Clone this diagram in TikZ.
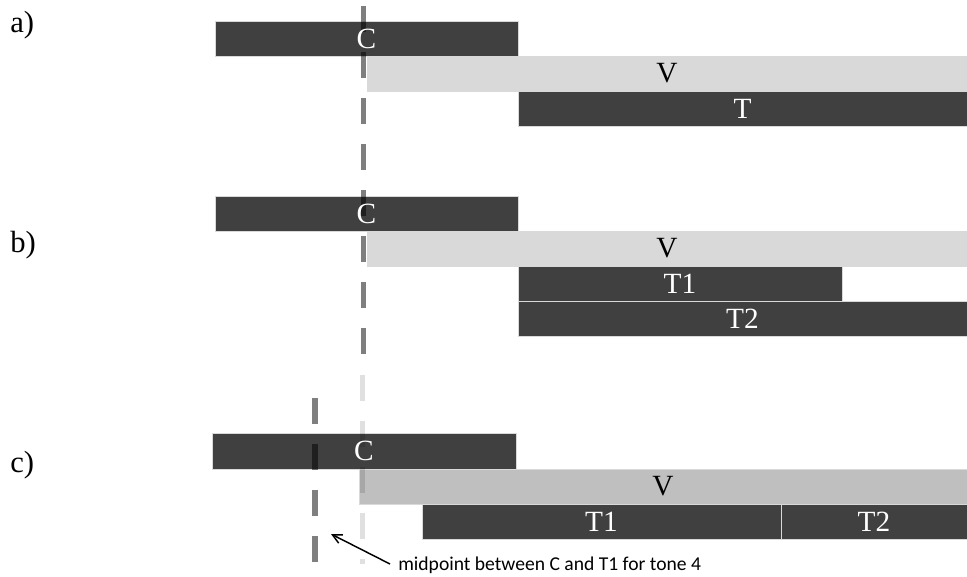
\documentclass[tikz,border=0pt]{standalone}
\usepackage{fontspec}
\setmainfont{Liberation Serif}
\newfontfamily\notefont{Carlito}
\usetikzlibrary{arrows.meta}
\tikzset{
  x=0.75pt, y=-0.75pt,
  barbase/.style={inner sep=0pt, outer sep=0pt, draw=black!15, line width=0.5pt, minimum height=35*0.75pt},
  dbar/.style={barbase, fill=black!75},
  lbar/.style={barbase, fill=black!15},
  mbar/.style={barbase, fill=black!25},
  wlab/.style={text=white, font=\fontsize{22}{26}\selectfont, inner sep=0pt},
  klab/.style={text=black, font=\fontsize{22}{26}\selectfont, inner sep=0pt},
  plab/.style={text=black, font=\fontsize{23}{27}\selectfont, inner sep=0pt, anchor=base west},
  darkdash/.style={draw=black, draw opacity=0.5, line width=4.2pt, dash pattern=on 26*0.75pt off 20*0.75pt},
  lightdash/.style={draw=black, draw opacity=0.12, line width=4.2pt, dash pattern=on 26*0.75pt off 20*0.75pt},
  notetext/.style={font=\notefont\fontsize{14.7}{17}\selectfont, inner sep=0pt, anchor=west},
  pointer/.style={draw=black, line width=1.1pt, -{Straight Barb[length=7pt,width=7pt]}}
}
\begin{document}
\begin{tikzpicture}
\useasboundingbox (0,0) rectangle (967,576);
% panel labels
\node[plab] (la) at (10,32) {a)};
\node[plab] (lb) at (10,252) {b)};
\node[plab] (lc) at (10,472) {c)};
% panel a
\node[dbar, minimum width=303*0.75pt] (aC) at (366.5,38.5) {};
\node[lbar, minimum width=600*0.75pt] (aV) at (667,73.5) {};
\node[dbar, minimum width=449*0.75pt] (aT) at (742.5,108.5) {};
% panel b
\node[dbar, minimum width=303*0.75pt] (bC) at (366.5,213.5) {};
\node[lbar, minimum width=600*0.75pt] (bV) at (667,248.5) {};
\node[dbar, minimum width=324*0.75pt] (bT1) at (680,283.5) {};
\node[dbar, minimum width=449*0.75pt] (bT2) at (742.5,318.5) {};
% panel c
\node[dbar, minimum width=304*0.75pt, minimum height=36*0.75pt] (cC) at (364,451) {};
\node[mbar, minimum width=608*0.75pt] (cV) at (663,486.5) {};
\node[dbar, minimum width=359*0.75pt] (cT1) at (601.5,521.5) {};
\node[dbar, minimum width=186*0.75pt] (cT2) at (874,521.5) {};
% dashed guide lines
\coordinate (gTop) at (363.5,6);
\coordinate (gBot) at (363.5,356);
\draw[darkdash] (gTop) -- (gBot);
\coordinate (lTop) at (362.5,375);
\coordinate (lBot) at (362.5,564);
\draw[lightdash] (lTop) -- (lBot);
\coordinate (mTop) at (315,398);
\coordinate (mBot) at (315,563);
\draw[darkdash] (mTop) -- (mBot);
% bar labels
\node[wlab] (aClab) at (aC) {C};
\node[klab] (aVlab) at (aV) {V};
\node[wlab] (aTlab) at (aT) {T};
\node[wlab] (bClab) at (bC) {C};
\node[klab] (bVlab) at (bV) {V};
\node[wlab] (bT1lab) at (bT1) {T1};
\node[wlab] (bT2lab) at (bT2) {T2};
\node[wlab] (cClab) at (cC) {C};
\node[klab] (cVlab) at (cV) {V};
\node[wlab] (cT1lab) at (cT1) {T1};
\node[wlab] (cT2lab) at (cT2) {T2};
% annotation
\node[notetext] (note) at (398,565) {midpoint between C and T1 for tone 4};
\coordinate (tip) at (331,534);
\draw[pointer] (390,564) -- (tip);
\end{tikzpicture}
\end{document}
